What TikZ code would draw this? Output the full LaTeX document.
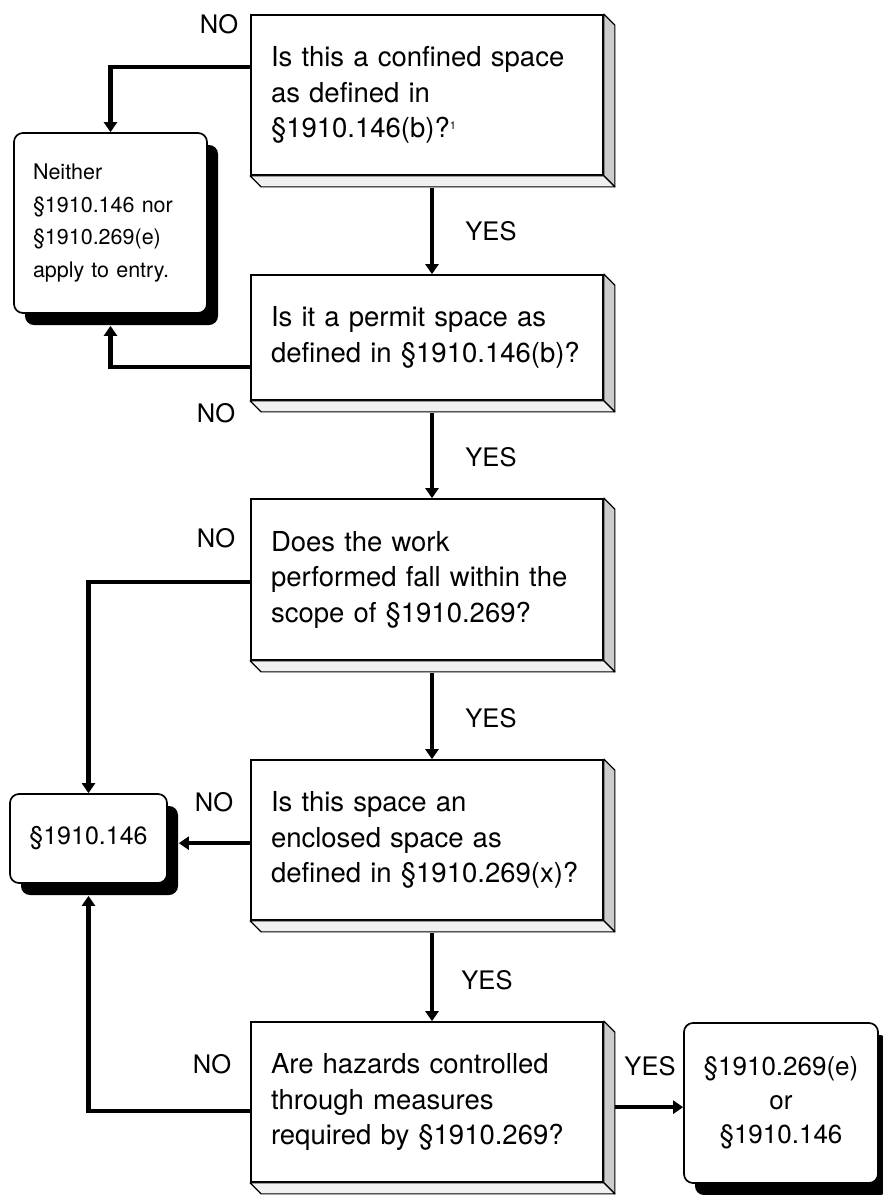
\documentclass[tikz,border=0pt]{standalone}
\usepackage{fontspec}
\setmainfont{TeX Gyre Heros}
\usetikzlibrary{arrows.meta,calc,shadows}
\newcommand{\qfnt}{\fontsize{27.5}{35.5}\selectfont}
\newcommand{\afnt}{\fontsize{21.5}{33}\selectfont}
\newcommand{\bfnt}{\fontsize{25}{30}\selectfont}
\newcommand{\cfnt}{\fontsize{26}{34}\selectfont}
\newcommand{\lfnt}{\fontsize{25.5}{30}\selectfont}
\newcommand{\fnmark}{\raisebox{8pt}{\fontsize{11}{11}\selectfont 1}}
\begin{document}
\begin{tikzpicture}[x=1pt,y=-1pt,
  qbox/.style={draw, line width=1.7pt, rectangle, fill=white, minimum width=352pt,
    text width=312pt, inner xsep=20pt, inner ysep=0pt, align=left, font=\qfnt},
  rbox/.style={draw, line width=1.7pt, rounded corners=9pt, fill=white, inner ysep=0pt,
    drop shadow={shadow xshift=11pt, shadow yshift=-12pt, fill=black, opacity=1}},
  arr/.style={line width=4.2pt, -{Triangle[length=10pt,width=13pt]}},
  lbl/.style={font=\lfnt, inner sep=0pt},
  slabR/.style={line width=1.2pt, fill=gray!40, line join=round},
  slabB/.style={line width=1.2pt, fill=gray!12, line join=round}
]
\useasboundingbox (0,0) rectangle (883,1195);
\fill[white] (0,0) rectangle (883,1195);

% decision boxes
\node[qbox, minimum height=160pt] (q1) at (427,95)
  {Is this a confined space\\as defined in\\§1910.146(b)?\fnmark};
\node[qbox, minimum height=125pt] (q2) at (427,337.5)
  {Is it a permit space as\\defined in §1910.146(b)?};
\node[qbox, minimum height=161pt] (q3) at (427,579.5)
  {Does the work\\performed fall within the\\scope of §1910.269?};
\node[qbox, minimum height=160pt] (q4) at (427,840)
  {Is this space an\\enclosed space as\\defined in §1910.269(x)?};
\node[qbox, minimum height=160pt] (q5) at (427,1102)
  {Are hazards controlled\\through measures\\required by §1910.269?};

\foreach \n in {q1,q2,q3,q4,q5}{
  \filldraw[slabR] (\n.north east) -- ++(11,11) -- ($(\n.south east)+(11,11)$) -- (\n.south east) -- cycle;
  \filldraw[slabB] (\n.south west) -- (\n.south east) -- ($(\n.south east)+(11,11)$) -- ($(\n.south west)+(11,11)$) -- cycle;
}

% outcome boxes
\node[rbox, minimum width=193pt, minimum height=180pt, text width=155pt, inner xsep=19pt,
  align=left, font=\afnt] (A) at (110.5,223)
  {Neither\\§1910.146 nor\\§1910.269(e)\\apply to entry.};
\node[rbox, minimum width=157pt, minimum height=89pt, font=\bfnt] (B) at (88.5,838.5) {§1910.146};
\node[rbox, minimum width=194pt, minimum height=160pt, align=center, font=\cfnt] (C) at (781,1103)
  {§1910.269(e)\\or\\§1910.146};

% connectors
\coordinate (n1) at ($(q1.north west)+(0,53)$);
\draw[arr] (n1) -| (A.north);
\coordinate (n2) at ($(q2.north west)+(0,93)$);
\coordinate (Ash) at ($(A.south)+(0,12)$);
\draw[arr] (n2) -| (Ash);
\coordinate (n3) at ($(q3.north west)+(0,84)$);
\draw[arr] (n3) -| (B.north);
\coordinate (n4) at ($(q4.north west)+(0,84)$);
\coordinate (Bsh) at ($(B.east)+(11,0)$);
\draw[arr] (n4) -- (n4 -| Bsh);
\coordinate (n5) at ($(q5.north west)+(0,90)$);
\coordinate (Bsb) at ($(B.south)+(0,12)$);
\draw[arr] (n5) -| (Bsb);
\coordinate (e5) at ($(q5.north east)+(11,86)$);
\draw[arr] (e5) -- (e5 -| C.west);
\foreach \a/\b in {q1/q2,q2/q3,q3/q4,q4/q5}
  \draw[arr] ($(\a.south)+(5,12)$) -- ($(\b.north)+(5,0)$);

% labels
\node[lbl] (no1) at (219,24) {NO};
\node[lbl] (yes1) at (491,231) {YES};
\node[lbl] (no2) at (216,413) {NO};
\node[lbl] (yes2) at (491,457) {YES};
\node[lbl] (no3) at (216,538) {NO};
\node[lbl] (yes3) at (491,718) {YES};
\node[lbl] (no4) at (214,802) {NO};
\node[lbl] (yes4) at (487,980) {YES};
\node[lbl] (no5) at (212,1064) {NO};
\node[lbl] (yes5) at (650,1066) {YES};
\end{tikzpicture}
\end{document}
